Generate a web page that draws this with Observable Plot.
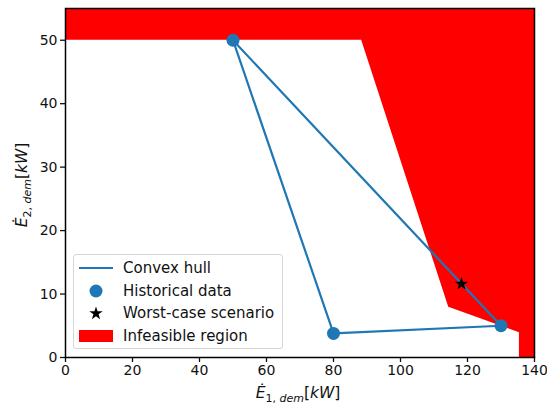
<!DOCTYPE html>
<html><head>
<meta charset="utf-8">
<script src="https://cdn.jsdelivr.net/npm/d3@7"></script>
<script src="https://cdn.jsdelivr.net/npm/@observablehq/plot@0.6"></script>
<style>
body{margin:0;background:#fff}
#c{position:relative;width:547px;height:405px;font-family:'DejaVu Sans',sans-serif}
#legend{position:absolute;left:73px;top:254px;width:210px;height:95px;box-sizing:border-box;border:1px solid #d6d6d6;border-radius:3px;background:rgba(255,255,255,0.85);font-size:15px;color:#111}
.row{position:absolute;left:0;height:22px;display:flex;align-items:center}
.sw{width:34px;margin-left:5px;margin-right:10px;display:flex;justify-content:center;align-items:center}
</style>
</head><body><div id="c"></div>
<script>
// ---- data ----
const hullX = [50, 80, 130, 50];
const hullY = [50, 3.8, 5.0, 50];
const histX = [50, 80, 130];
const histY = [50, 3.8, 5.0];
const worstX = [118.2];
const worstY = [11.6];
const regionY  = [0, 3.9, 7.9, 50, 50, 55];
const regionX1 = [135.5, 135.5, 114.4, 88.4, 0, 0];
const xTicks = [0, 20, 40, 60, 80, 100, 120, 140];
const yTicks = [0, 10, 20, 30, 40, 50];
const xDomain = [0, 140];
const yDomain = [0, 55];
const legendLabels = ["Convex hull", "Historical data", "Worst-case scenario", "Infeasible region"];

const blue = "#1f77b4";
const hull = hullX.map((x, i) => ({x, y: hullY[i]}));
const hist = histX.map((x, i) => ({x, y: histY[i]}));
const worst = worstX.map((x, i) => ({x, y: worstY[i]}));
const region = regionY.map((y, i) => ({y, x1: regionX1[i], x2: xDomain[1]}));

const plot = Plot.plot({
  width: 547, height: 405,
  marginLeft: 65, marginRight: 13, marginTop: 8, marginBottom: 48,
  style: {fontFamily: "'DejaVu Sans', sans-serif", fontSize: "14px", color: "#111", background: "white"},
  x: {domain: xDomain},
  y: {domain: yDomain},
  marks: [
    Plot.areaX(region, {y: "y", x1: "x1", x2: "x2", fill: "red"}),
    Plot.line(hull, {x: "x", y: "y", stroke: blue, strokeWidth: 2.2}),
    Plot.dot(hist, {x: "x", y: "y", r: 6.5, fill: blue}),
    Plot.dot(worst, {x: "x", y: "y", r: 4.2, symbol: "star", fill: "black"}),
    Plot.axisX({ticks: xTicks, tickSize: 5, tickPadding: 3, strokeWidth: 1.3, label: null, fontSize: 14}),
    Plot.axisY({ticks: yTicks, tickSize: 5, tickPadding: 3, strokeWidth: 1.3, label: null, fontSize: 14}),
    Plot.frame({stroke: "black", strokeWidth: 1.5})
  ]
});

const svg = d3.select(plot);
function axisLabel(sel, idx) {
  sel.append("tspan").attr("font-style", "italic").text("Ė");
  sel.append("tspan").attr("font-size", 11).attr("dy", 3.5).text(idx + ", ");
  sel.append("tspan").attr("font-size", 11).attr("font-style", "italic").text("dem");
  sel.append("tspan").attr("dy", -3.5).text("[");
  sel.append("tspan").attr("font-style", "italic").text("kW");
  sel.append("tspan").text("]");
}
axisLabel(svg.append("text").attr("x", 298).attr("y", 398).attr("text-anchor", "middle")
  .attr("font-size", 15.5).attr("fill", "#111"), "1");
axisLabel(svg.append("text").attr("transform", "translate(27,185) rotate(-90)").attr("text-anchor", "middle")
  .attr("font-size", 15.5).attr("fill", "#111"), "2");

const c = document.getElementById("c");
c.appendChild(plot);

// legend
const lg = document.createElement("div");
lg.id = "legend";
const swatches = [
  `<svg width="34" height="10"><line x1="0" y1="5" x2="34" y2="5" stroke="${blue}" stroke-width="2.2"/></svg>`,
  `<svg width="16" height="16"><circle cx="8" cy="8" r="6.5" fill="${blue}"/></svg>`,
  `<svg width="16" height="16"><path transform="translate(8,8.5)" d="${d3.symbol(d3.symbolStar, Math.PI*4.2*4.2)()}" fill="black"/></svg>`,
  `<svg width="34" height="12"><rect x="0" y="0" width="34" height="12" fill="red"/></svg>`
];
legendLabels.forEach((t, i) => {
  const r = document.createElement("div");
  r.className = "row";
  r.style.top = (2 + i * 22.7) + "px";
  r.innerHTML = `<div class="sw">${swatches[i]}</div><span>${t}</span>`;
  lg.appendChild(r);
});
c.appendChild(lg);
</script>
</body></html>
